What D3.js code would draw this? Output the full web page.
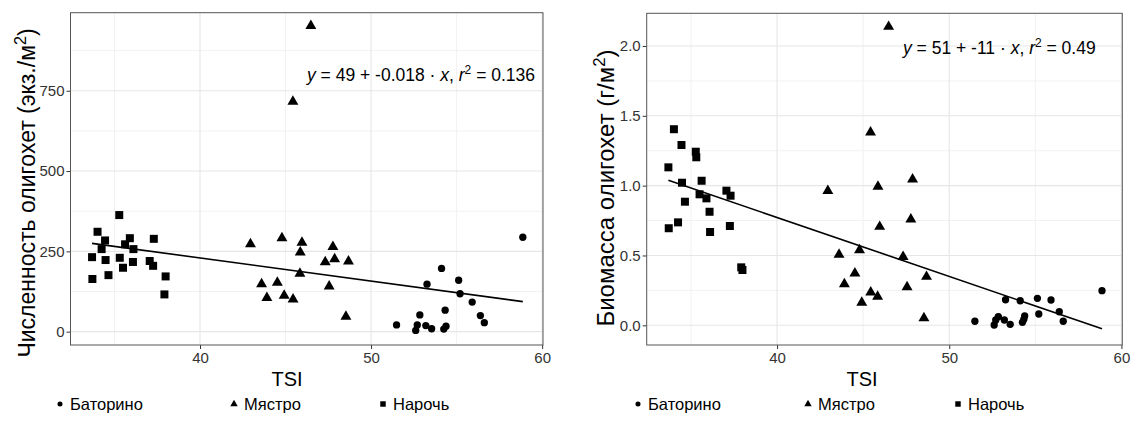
<!DOCTYPE html>
<html>
<head>
<meta charset="utf-8">
<script src="https://cdn.jsdelivr.net/npm/d3@7"></script>
<style>
  body { margin: 0; background: #fff; }
  svg { display: block; font-family: "Liberation Sans", Arial, sans-serif; }
</style>
</head>
<body>
<svg id="chart" width="1132" height="422"></svg>
<script>
(function () {
  'use strict';

  // Баторино
  const tsiBatorino = [51.49, 52.61, 52.70, 52.85, 53.20, 53.27, 53.54, 54.12, 54.25, 54.33, 54.38, 55.12, 55.20, 55.91, 56.39, 56.62, 58.87];
  const countBatorino = [21, 4, 21, 52, 19, 148, 9, 197, 8, 67, 17, 160, 118, 92, 50, 28, 294];
  const massBatorino = [0.029, 0.002, 0.038, 0.062, 0.038, 0.183, 0.007, 0.176, 0.021, 0.043, 0.067, 0.193, 0.081, 0.181, 0.097, 0.029, 0.248];

  // Мястро
  const tsiMyastro = [42.95, 43.60, 43.91, 44.52, 44.79, 44.92, 45.43, 45.44, 45.84, 45.86, 45.96, 46.48, 47.32, 47.55, 47.77, 47.87, 48.53, 48.68];
  const countMyastro = [273, 148, 105, 153, 291, 112, 716, 101, 181, 247, 277, 952, 217, 141, 264, 226, 47, 219];
  const massMyastro = [0.962, 0.506, 0.296, 0.372, 0.539, 0.162, 1.382, 0.236, 0.205, 0.993, 0.706, 2.138, 0.491, 0.274, 0.759, 1.045, 0.052, 0.348];

  // Нарочь
  const tsiNaroch = [33.69, 33.71, 34.01, 34.25, 34.45, 34.48, 34.65, 35.28, 35.31, 35.50, 35.62, 35.90, 36.08, 36.11, 37.06, 37.26, 37.30, 37.92, 37.99];
  const countNaroch = [232, 164, 311, 257, 284, 223, 176, 363, 230, 199, 272, 291, 217, 257, 220, 205, 289, 116, 172];
  const massNaroch = [1.131, 0.695, 1.404, 0.737, 1.291, 1.021, 0.885, 1.243, 1.203, 0.938, 1.035, 0.909, 0.813, 0.668, 0.964, 0.711, 0.928, 0.415, 0.396];

  const siteNames = ['Баторино', 'Мястро', 'Нарочь'];
  const xTicks = [40, 50, 60];
  const countTicks = [0, 250, 500, 750];
  const massTicks = [0, 0.5, 1.0, 1.5, 2.0];
  const eqCount = { a: '49', b: '-0.018', r2: '0.136' };
  const eqMass = { a: '51', b: '-11', r2: '0.49' };

  const svg = d3.select('#chart');
  const shapes = [d3.symbolCircle, d3.symbolTriangle, d3.symbolSquare];
  const shapeSize = [42, 52, 64];

  function makeSite(tsi, vals, site) {
    return tsi.map((t, i) => ({ x: t, y: vals[i], site: site }));
  }

  // ordinary least squares for the trend line
  function fit(points) {
    const mx = d3.mean(points, p => p.x);
    const my = d3.mean(points, p => p.y);
    const sxy = d3.sum(points, p => (p.x - mx) * (p.y - my));
    const sxx = d3.sum(points, p => (p.x - mx) * (p.x - mx));
    const b = sxy / sxx;
    return { a: my - b * mx, b: b };
  }

  function drawPanel(opt) {
    const g = svg.append('g');
    const x = d3.scaleLinear().domain([32.43, 60.05]).range([opt.left, opt.right]);
    const y = d3.scaleLinear().domain(opt.yDomain).range([opt.bottom, opt.top]);

    // minor + major grid
    const xMinor = d3.range(35, 61, 10);
    const yStep = opt.yTicks[1] - opt.yTicks[0];
    const yMinor = d3.range(opt.yTicks[0] - yStep / 2, opt.yDomain[1], yStep)
      .filter(v => v > opt.yDomain[0]);
    g.append('g').selectAll('line').data(xMinor).enter().append('line')
      .attr('x1', d => x(d)).attr('x2', d => x(d))
      .attr('y1', opt.top).attr('y2', opt.bottom)
      .attr('stroke', '#f2f2f2').attr('stroke-width', 1);
    g.append('g').selectAll('line').data(yMinor).enter().append('line')
      .attr('x1', opt.left).attr('x2', opt.right)
      .attr('y1', d => y(d)).attr('y2', d => y(d))
      .attr('stroke', '#f2f2f2').attr('stroke-width', 1);
    g.append('g').selectAll('line').data(xTicks).enter().append('line')
      .attr('x1', d => x(d)).attr('x2', d => x(d))
      .attr('y1', opt.top).attr('y2', opt.bottom)
      .attr('stroke', '#e6e6e6').attr('stroke-width', 1.1);
    g.append('g').selectAll('line').data(opt.yTicks).enter().append('line')
      .attr('x1', opt.left).attr('x2', opt.right)
      .attr('y1', d => y(d)).attr('y2', d => y(d))
      .attr('stroke', '#e6e6e6').attr('stroke-width', 1.1);

    // axes
    const xAxis = g.append('g').attr('transform', `translate(0,${opt.bottom})`)
      .call(d3.axisBottom(x).tickValues(xTicks).tickSize(4).tickPadding(3));
    const yAxis = g.append('g').attr('transform', `translate(${opt.left},0)`)
      .call(d3.axisLeft(y).tickValues(opt.yTicks).tickFormat(opt.fmt).tickSize(4).tickPadding(2));
    [xAxis, yAxis].forEach(ax => {
      ax.select('.domain').remove();
      ax.selectAll('line').attr('stroke', '#333');
      ax.selectAll('text').attr('fill', '#333').style('font-size', opt.tickFont)
        .style('font-family', '"Liberation Sans", Arial, sans-serif');
    });

    // panel border
    g.append('rect')
      .attr('x', opt.left).attr('y', opt.top)
      .attr('width', opt.right - opt.left).attr('height', opt.bottom - opt.top)
      .attr('fill', 'none').attr('stroke', '#555').attr('stroke-width', 1);

    // regression line
    const all = [].concat(...opt.series);
    const f = fit(all);
    const ext = d3.extent(all, p => p.x);
    g.append('path')
      .datum(ext.map(v => [v, f.a + f.b * v]))
      .attr('d', d3.line().x(d => x(d[0])).y(d => y(d[1])))
      .attr('stroke', '#000').attr('stroke-width', 1.6).attr('fill', 'none');

    // points
    opt.series.forEach((pts, si) => {
      g.append('g').selectAll('path').data(pts).enter().append('path')
        .attr('transform', d => `translate(${x(d.x)},${y(d.y)})`)
        .attr('d', d3.symbol().type(shapes[si]).size(shapeSize[si]))
        .attr('fill', '#000');
    });

    // equation
    const eq = g.append('text').attr('x', opt.eqX).attr('y', opt.eqY)
      .style('font-size', '17.5px').attr('fill', '#000');
    eq.append('tspan').style('font-style', 'italic').text('y');
    eq.append('tspan').text(` = ${opt.eq.a} + ${opt.eq.b} · `);
    eq.append('tspan').style('font-style', 'italic').text('x');
    eq.append('tspan').text(',  ');
    eq.append('tspan').style('font-style', 'italic').text('r');
    eq.append('tspan').attr('dy', -7).style('font-size', '12px').text('2');
    eq.append('tspan').attr('dy', 7).text(` = ${opt.eq.r2}`);

    // axis titles
    g.append('text').attr('x', opt.xTitleX).attr('y', 386)
      .attr('text-anchor', 'middle').style('font-size', '20px').attr('fill', '#000')
      .text('TSI');
    const yt = g.append('text')
      .attr('transform', `translate(${opt.yTitleX},${opt.yTitleY}) rotate(-90)`)
      .attr('text-anchor', 'middle').style('font-size', opt.yTitleFont).attr('fill', '#000');
    yt.append('tspan').text(opt.yTitle);
    yt.append('tspan').attr('dy', -9).style('font-size', '0.7em').text('2');
    yt.append('tspan').attr('dy', 9).text(')');

    // legend
    const lg = g.append('g');
    siteNames.forEach((name, i) => {
      const lx = opt.legendX[i];
      lg.append('path')
        .attr('transform', `translate(${lx},${404})`)
        .attr('d', d3.symbol().type(shapes[i]).size([20, 24, 30][i]))
        .attr('fill', '#000');
      lg.append('text').attr('x', lx + 10).attr('y', 410)
        .style('font-size', '16.5px').attr('fill', '#000').text(name);
    });
  }

  drawPanel({
    left: 70.5, right: 543, top: 12.7, bottom: 345,
    yDomain: [-41.5, 993], yTicks: countTicks, fmt: d3.format('d'),
    series: [
      makeSite(tsiBatorino, countBatorino, 0),
      makeSite(tsiMyastro, countMyastro, 1),
      makeSite(tsiNaroch, countNaroch, 2)
    ],
    eq: eqCount, eqX: 307, eqY: 81,
    tickFont: '15px', yTitleFont: '23px',
    xTitleX: 287, yTitleX: 35, yTitleY: 193,
    yTitle: 'Численность олигохет (экз./м',
    legendX: [60, 234, 383]
  });

  drawPanel({
    left: 646.7, right: 1122.3, top: 13.3, bottom: 345,
    yDomain: [-0.141, 2.234], yTicks: massTicks, fmt: d3.format('.1f'),
    series: [
      makeSite(tsiBatorino, massBatorino, 0),
      makeSite(tsiMyastro, massMyastro, 1),
      makeSite(tsiNaroch, massNaroch, 2)
    ],
    eq: eqMass, eqX: 903, eqY: 54,
    tickFont: '15px', yTitleFont: '24px',
    xTitleX: 862, yTitleX: 614, yTitleY: 188,
    yTitle: 'Биомасса олигохет (г/м',
    legendX: [638, 808, 958]
  });
}());
</script>
</body>
</html>
